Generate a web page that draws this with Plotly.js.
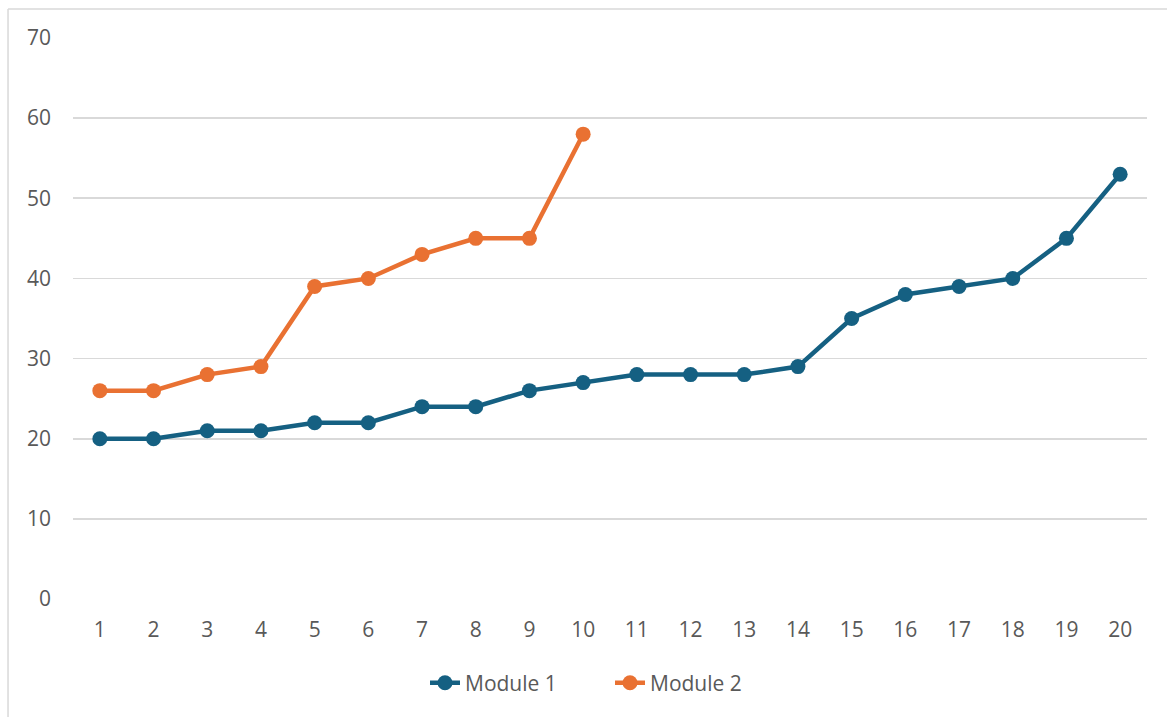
<!DOCTYPE html>
<html>
<head>
<meta charset="utf-8">
<script src="https://cdn.plot.ly/plotly-3.0.1.min.js"></script>
<style>
  html, body { margin: 0; padding: 0; background: #fff; }
  #chart { width: 1167px; height: 717px; }
</style>
</head>
<body>
<div id="chart"></div>
<script>
// Categories along the x axis
const categories = ['1','2','3','4','5','6','7','8','9','10','11','12','13','14','15','16','17','18','19','20'];

// Series values
const module1 = [20, 20, 21, 21, 22, 22, 24, 24, 26, 27, 28, 28, 28, 29, 35, 38, 39, 40, 45, 53];
const module2 = [26, 26, 28, 29, 39, 40, 43, 45, 45, 58];

const seriesNames = ['Module 1', 'Module 2'];
const yTicks = [0, 10, 20, 30, 40, 50, 60, 70];

const textColor = '#595959';
const fontFamily = '"Open Sans", "Liberation Sans", sans-serif';
const fontSize = 21;

const traces = [
  {
    x: categories,
    y: module1,
    name: seriesNames[0],
    type: 'scatter',
    mode: 'lines+markers',
    line: { color: '#156082', width: 4.5 },
    marker: { color: '#156082', size: 15 }
  },
  {
    x: categories.slice(0, module2.length),
    y: module2,
    name: seriesNames[1],
    type: 'scatter',
    mode: 'lines+markers',
    line: { color: '#E97132', width: 4.5 },
    marker: { color: '#E97132', size: 15 }
  }
];

const layout = {
  width: 1167,
  height: 717,
  margin: { l: 73, r: 20, t: 38, b: 118 },
  paper_bgcolor: '#ffffff',
  plot_bgcolor: '#ffffff',
  font: { family: fontFamily, color: textColor, size: fontSize },
  showlegend: true,
  legend: {
    orientation: 'h',
    x: 0.5,
    xanchor: 'center',
    y: -0.15,
    yanchor: 'middle',
    font: { family: fontFamily, color: textColor, size: fontSize },
    entrywidthmode: 'pixels',
    entrywidth: 140
  },
  xaxis: {
    type: 'category',
    categoryorder: 'array',
    categoryarray: categories,
    range: [-0.5, categories.length - 0.5],
    showgrid: false,
    zeroline: false,
    showline: false,
    ticks: '',
    ticklabelstandoff: 16,
    tickfont: { family: fontFamily, color: textColor, size: fontSize },
    fixedrange: true
  },
  yaxis: {
    range: [0, 70],
    tickvals: yTicks,
    showgrid: true,
    gridcolor: '#d9d9d9',
    gridwidth: 1.8,
    zeroline: false,
    showline: false,
    ticks: '',
    ticklabelstandoff: 21,
    tickfont: { family: fontFamily, color: textColor, size: fontSize },
    fixedrange: true
  },
  shapes: [
    // frame around the chart area (left and top edges)
    { type: 'line', xref: 'paper', yref: 'paper', x0: -0.0605, x1: -0.0605, y0: 1.0517, y1: -0.25,
      line: { color: '#d9d9d9', width: 1.5 } },
    { type: 'line', xref: 'paper', yref: 'paper', x0: -0.0605, x1: 1.05, y0: 1.0517, y1: 1.0517,
      line: { color: '#d9d9d9', width: 1.5 } }
  ]
};

Plotly.newPlot('chart', traces, layout, { displayModeBar: false, staticPlot: true });
</script>
</body>
</html>
